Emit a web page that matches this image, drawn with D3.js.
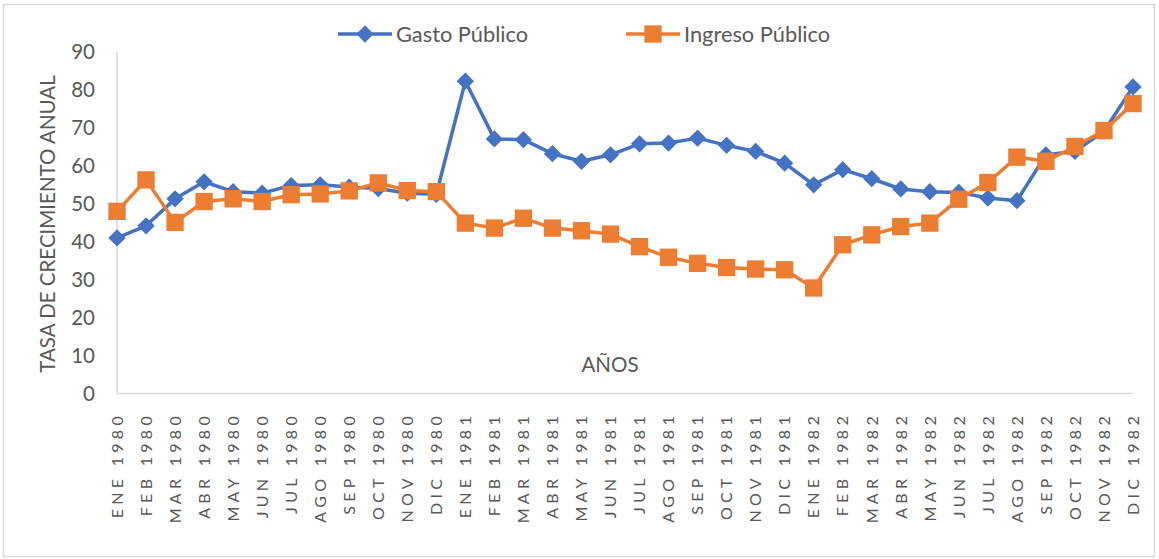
<!DOCTYPE html>
<html><head><meta charset="utf-8">
<script src="https://cdn.jsdelivr.net/npm/d3@7"></script>
<style>body{margin:0;background:#fff}svg{display:block}</style>
</head><body>
<svg id="c" width="1159" height="559"></svg>
<script>
const months = ["ENE","FEB","MAR","ABR","MAY","JUN","JUL","AGO","SEP","OCT","NOV","DIC"];
const years = [1980, 1981, 1982];
const categories = years.flatMap(y => months.map(m => m + " " + y));
const gasto = [41.0,44.2,51.3,55.8,53.2,52.8,54.8,55.0,54.4,54.0,52.8,52.5,
               82.3,67.1,66.9,63.2,61.2,62.9,65.8,66.0,67.3,65.4,63.8,60.7,
               55.0,59.0,56.6,53.9,53.2,53.0,51.5,50.8,62.9,63.8,69.1,80.8];
const ingreso = [48.0,56.3,45.1,50.6,51.3,50.6,52.4,52.6,53.4,55.5,53.5,53.2,
                 44.9,43.6,46.2,43.6,42.9,42.0,38.7,35.9,34.3,33.2,32.8,32.6,
                 27.8,39.2,41.8,44.0,44.9,51.2,55.6,62.3,61.2,65.1,69.3,76.4];
const yTicks = [0,10,20,30,40,50,60,70,80,90];
const seriesNames = ["Gasto Público","Ingreso Público"];

const FONT = "Lato, 'Open Sans', sans-serif";
const TXT = "#595959";
const svg = d3.select("#c");
svg.append("rect").attr("x",3.5).attr("y",4.5).attr("width",1151).attr("height",552)
  .attr("fill","#fff").attr("stroke","#d9d9d9").attr("stroke-width",1.5);

const x = d3.scalePoint().domain(categories).range([117,1133]);
const y = d3.scaleLinear().domain([0,90]).range([393.5,52]);

// axis lines
svg.append("line").attr("x1",117).attr("x2",117).attr("y1",y(90)).attr("y2",y(0))
  .attr("stroke","#d9d9d9").attr("stroke-width",1.5);
svg.append("line").attr("x1",117).attr("x2",1133).attr("y1",y(0)).attr("y2",y(0))
  .attr("stroke","#d9d9d9").attr("stroke-width",1.5);

// y ticks
svg.append("g").selectAll("text").data(yTicks).join("text")
  .attr("x",95).attr("y",d=>y(d)).attr("dy","0.35em").attr("text-anchor","end")
  .attr("font-family",FONT).attr("font-size",20.5).attr("fill",TXT).text(d=>d);

// x ticks
svg.append("g").selectAll("text").data(categories).join("text")
  .attr("transform",d=>`translate(${x(d)},412) rotate(-90)`)
  .attr("text-anchor","end").attr("dy","0.36em")
  .attr("font-family",FONT).attr("font-size",16).attr("letter-spacing","4.3px")
  .attr("fill",TXT).text(d=>d);

// axis titles
svg.append("text").attr("transform","translate(48,224) rotate(-90)")
  .attr("text-anchor","middle").attr("dy","0.35em")
  .attr("font-family",FONT).attr("font-size",20.5).attr("fill",TXT)
  .text("TASA DE CRECIMIENTO ANUAL");
svg.append("text").attr("x",610).attr("y",365).attr("dy","0.35em")
  .attr("text-anchor","middle").attr("font-family",FONT).attr("font-size",20.5)
  .attr("fill",TXT).text("AÑOS");

const colors = ["#4472C4","#ED7D31"];
const data = [gasto, ingreso];
const line = d3.line().x((d,i)=>x(categories[i])).y(d=>y(d));
const diamond = d3.symbol().type(d3.symbolDiamond2).size(190);
const square = d3.symbol().type(d3.symbolSquare).size(300);

data.forEach((vals,k)=>{
  svg.append("path").datum(vals).attr("d",line).attr("fill","none")
    .attr("stroke",colors[k]).attr("stroke-width",3.5).attr("stroke-linejoin","round");
  svg.append("g").selectAll("path").data(vals).join("path")
    .attr("transform",(d,i)=>`translate(${x(categories[i])},${y(d)})`)
    .attr("d",k===0?diamond:square).attr("fill",colors[k]);
});

// legend
const leg = [{x0:338,x1:392,tx:396},{x0:626,x1:680,tx:684}];
leg.forEach((l,k)=>{
  svg.append("line").attr("x1",l.x0).attr("x2",l.x1).attr("y1",34).attr("y2",34)
    .attr("stroke",colors[k]).attr("stroke-width",3.5);
  svg.append("path").attr("transform",`translate(${(l.x0+l.x1)/2},34)`)
    .attr("d",k===0?diamond:square).attr("fill",colors[k]);
  svg.append("text").attr("x",l.tx).attr("y",34).attr("dy","0.35em")
    .attr("font-family",FONT).attr("font-size",21.8).attr("fill",TXT).text(seriesNames[k]);
});
</script>
</body></html>
